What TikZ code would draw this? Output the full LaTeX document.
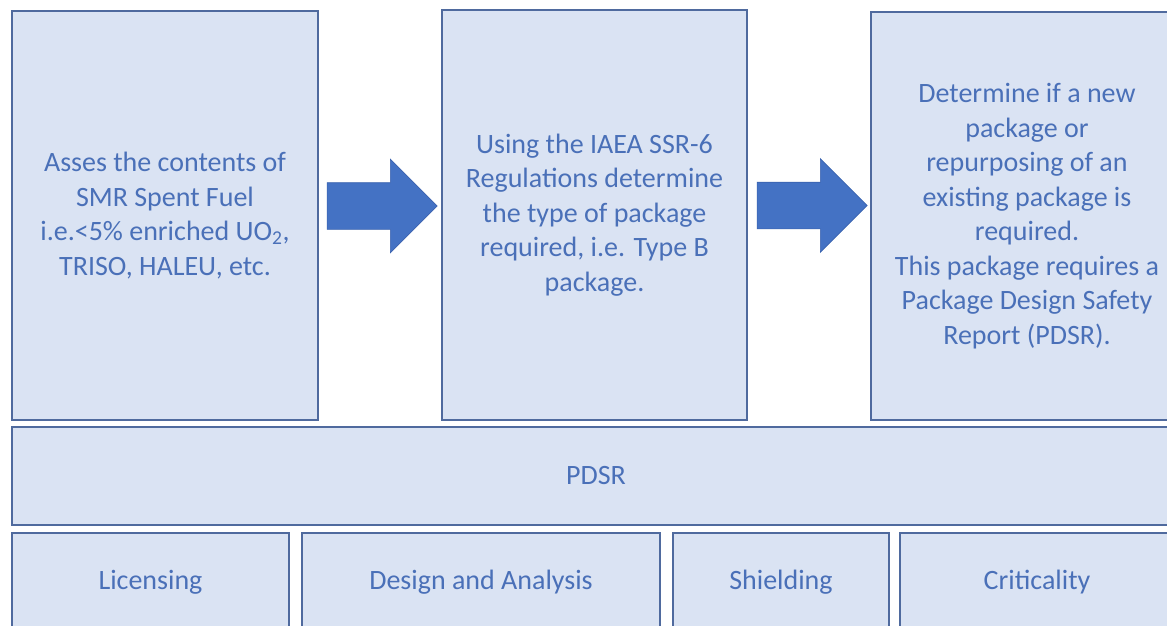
\documentclass[tikz,border=0pt]{standalone}
\usepackage{fontspec}
\setmainfont{Carlito}
\usepackage{tikz}
\usetikzlibrary{calc, positioning, shapes.arrows}
\definecolor{boxFill}{HTML}{DAE3F3}
\definecolor{boxLine}{HTML}{4F6A9E}
\definecolor{textBlue}{HTML}{4A70B8}
\definecolor{arrowBlue}{HTML}{4472C4}
\definecolor{arrowLine}{HTML}{3A62AE}

\begin{document}
\begin{tikzpicture}[x=1pt, y=-1pt,
    stage/.style={draw=boxLine, line width=1.6pt, fill=boxFill, text=textBlue,
        align=center, inner sep=0pt, font=\fontsize{28}{34.5}\selectfont},
    blockarrow/.style={single arrow, draw=arrowLine, line width=0.6pt, fill=arrowBlue,
        inner sep=23pt, single arrow head extend=23.5pt, minimum height=110pt, anchor=tail}]
            \useasboundingbox[fill=white] (0,0) rectangle (1167,626);
            \begin{scope}
                \clip (0,0) rectangle (1167,626);
                % top row
                \node[stage, minimum width=306pt, minimum height=409pt] (assess) at (165,215.5)
                    {Asses the contents of\\SMR Spent Fuel\\i.e.<5\% enriched UO\textsubscript{2},\\TRISO, HALEU, etc.};
                \node[stage, minimum width=305pt, minimum height=410pt] (regs) at (594.5,215)
                    {Using the IAEA SSR-6\\Regulations determine\\the type of package\\required, i.e. Type B\\package.};
                \node[stage, minimum width=312pt, minimum height=408pt] (decide) at (1027,216)
                    {Determine if a new\\package or\\repurposing of an\\existing package is\\required.\\This package requires a\\Package Design Safety\\Report (PDSR).};
                % report
                \node[stage, minimum width=1168pt, minimum height=98pt] (pdsr) at (596,476) {PDSR};
                % bottom row
                \node[stage, minimum width=277pt, minimum height=98pt] (lic) at (150.5,582) {Licensing};
                \node[stage, minimum width=358pt, minimum height=98pt] (design) at (481,582) {Design and Analysis};
                \node[stage, minimum width=216pt, minimum height=98pt] (shield) at (781,582) {Shielding};
                \node[stage, minimum width=274pt, minimum height=98pt] (crit) at (1037,582) {Criticality};
                % block arrows
                \node[blockarrow] (step1) at ($(assess.east)+(8,-9.5)$) {};
                \node[blockarrow] (step2) at ($(regs.east)+(9,-9.5)$) {};
            \end{scope}
        \end{tikzpicture}
\end{document}
